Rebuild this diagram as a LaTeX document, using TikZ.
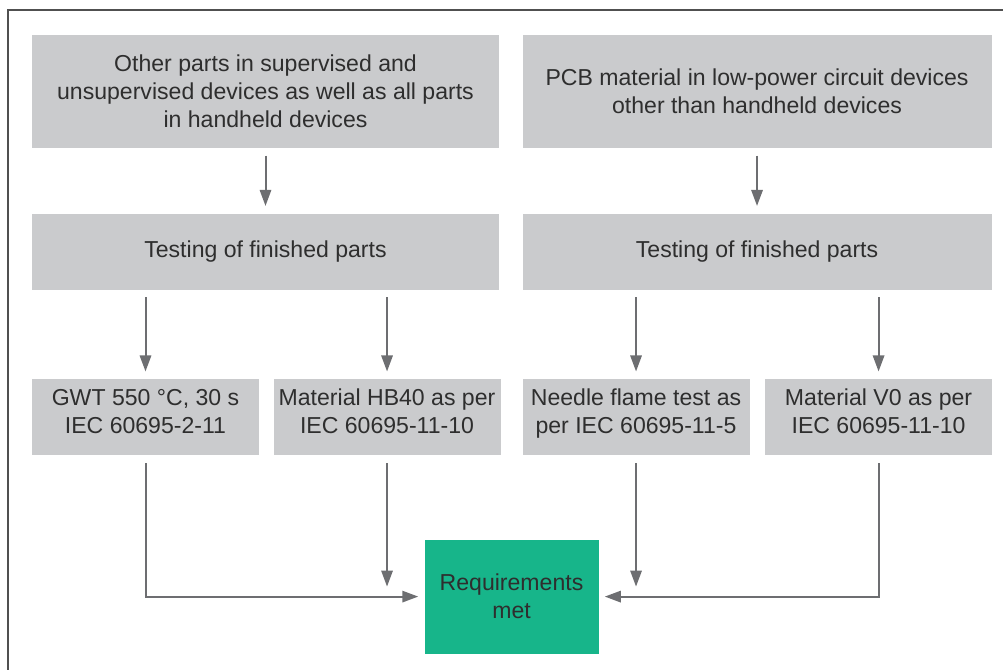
\documentclass[tikz,border=0pt]{standalone}
\usepackage{fontspec}
\setmainfont{Liberation Sans}
\usetikzlibrary{positioning,arrows.meta,calc}

\definecolor{boxgrey}{HTML}{CACBCD}
\definecolor{metgreen}{HTML}{17B58A}
\definecolor{linegrey}{HTML}{6D6E71}
\definecolor{textdark}{HTML}{2E2E2E}
\definecolor{framegrey}{HTML}{505050}

\begin{document}
\begin{tikzpicture}[x=0.75pt,y=-0.75pt,
    grey node/.style={fill=boxgrey, text=textdark, align=center, inner sep=0pt,
                      font=\fontsize{17.3}{21}\selectfont},
    wide node/.style={grey node, minimum width=350.25pt},
    small node/.style={grey node, minimum width=170.25pt, minimum height=57pt},
    green node/.style={grey node, fill=metgreen, minimum width=130.5pt, minimum height=85.5pt},
    flow/.style={draw=linegrey, line width=1.5pt, -{Triangle[length=12pt,width=8.5pt]},
                 shorten <=5.5pt, shorten >=5.5pt}]

  \useasboundingbox (0,0) rectangle (1003,670);
  \draw[framegrey, line width=1.2pt] (8,690) -- (8,10) -- (1020,10);

  %Top row%
  \node[wide node, minimum height=84.75pt] (top1) at (265.5,91.5)
    {Other parts in supervised and\\unsupervised devices as well as all parts\\in handheld devices};
  \node[wide node, minimum height=84.75pt, minimum width=351.75pt] (top2) [right=17.25pt of top1]
    {PCB material in low-power circuit devices\\other than handheld devices};

  %Testing%
  \node[wide node, minimum height=57pt] (test1) [below=48.75pt of top1] {Testing of finished parts};
  \node[wide node, minimum height=57pt, minimum width=351.75pt] (test2) [below=48.75pt of top2] {Testing of finished parts};

  %Tests%
  \node[small node] (gwt) [below=66.75pt of test1.south west, anchor=north west]
    {GWT 550 °C, 30 s\\IEC 60695-2-11\rule[-9pt]{0pt}{0pt}};
  \node[small node] (hb40) [right=10.5pt of gwt] {Material HB40 as per\\IEC 60695-11-10\rule[-9pt]{0pt}{0pt}};
  \node[small node] (needle) [below=66.75pt of test2.south west, anchor=north west]
    {Needle flame test as\\per IEC 60695-11-5\rule[-9pt]{0pt}{0pt}};
  \node[small node] (v0) [right=11.25pt of needle] {Material V0 as per\\IEC 60695-11-10\rule[-9pt]{0pt}{0pt}};

  %Result%
  \coordinate (mid) at ($(hb40.south east)!0.5!(needle.south west)$);
  \node[green node] (met) [below=63pt of mid] {Requirements\\met};

  \coordinate (hbend) at (hb40 |- met.west);
  \coordinate (nbend) at (needle |- met.west);

  \path[every edge/.style={flow}]
    (top1) edge (test1)
    (top2) edge (test2)
    (gwt |- test1.south) edge (gwt)
    (hb40 |- test1.south) edge (hb40)
    (needle |- test2.south) edge (needle)
    (v0 |- test2.south) edge (v0);

  \draw[flow, shorten <=6pt, shorten >=4.5pt] (gwt) |- (met);
  \draw[flow, shorten <=6pt, shorten >=4.5pt] (v0) |- (met);
  \draw[flow, shorten <=6pt, shorten >=7.5pt] (hb40) -- (hbend);
  \draw[flow, shorten <=6pt, shorten >=7.5pt] (needle) -- (nbend);
\end{tikzpicture}
\end{document}
